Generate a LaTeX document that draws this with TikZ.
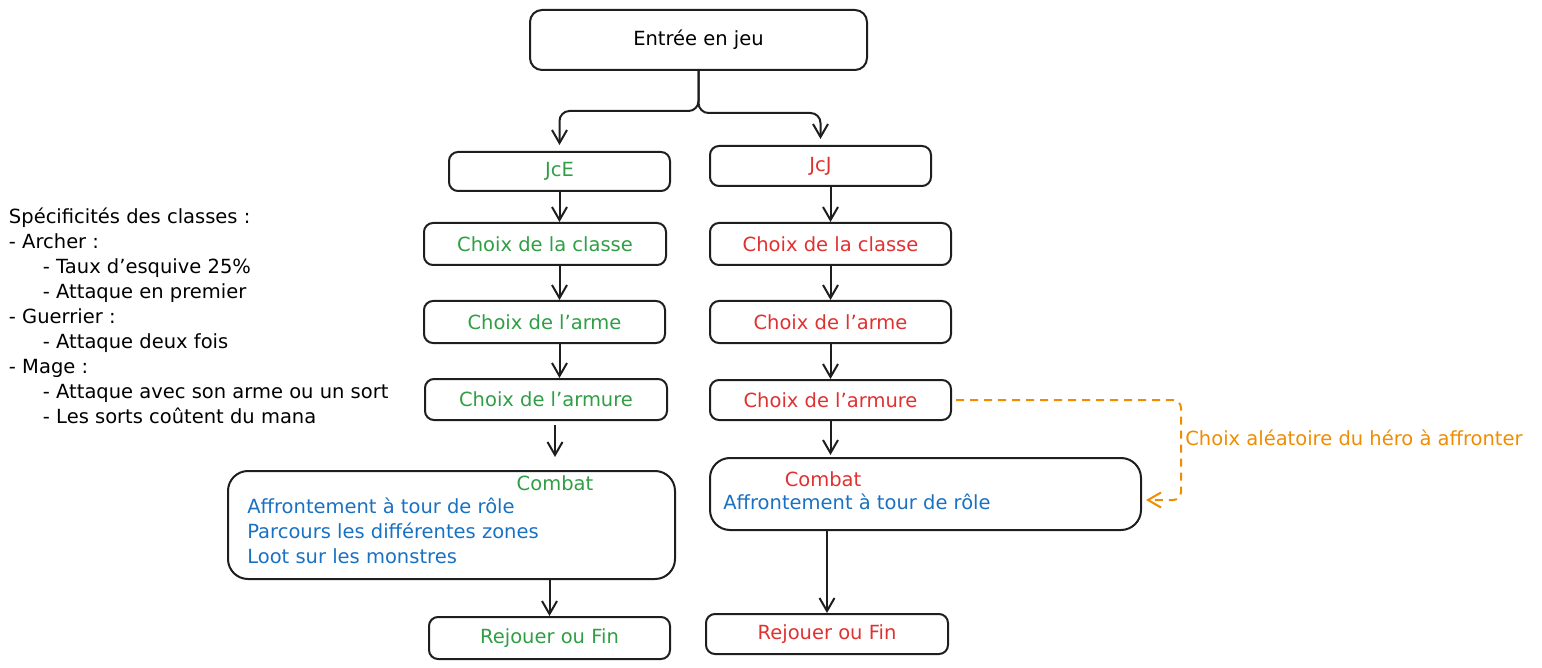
\documentclass[tikz,border=0pt]{standalone}
\usepackage{fontspec}
\setmainfont{DejaVu Sans}
\usetikzlibrary{positioning,arrows.meta}
\definecolor{jce}{HTML}{2F9E44}
\definecolor{jcj}{HTML}{E03131}
\definecolor{info}{HTML}{1971C2}
\definecolor{hasard}{HTML}{F08C00}
\definecolor{trait}{HTML}{1E1E1E}

\begin{document}
\begin{tikzpicture}[
    x=1pt, y=-1pt,
    >={Straight Barb[length=13pt,width=15pt]},
    line width=2pt,
    every node/.style={font=\fontsize{19.5}{25}\selectfont},
    etape/.style={draw=trait,rounded corners=9pt,minimum width=242pt,minimum height=42pt,inner sep=0pt},
    combat/.style={draw=trait,rounded corners=20pt,inner sep=0pt},
    fleche/.style={->,draw=trait},
    hasard/.style={->,draw=hasard,dashed,dash pattern=on 8pt off 6pt,rounded corners=8pt}
]

\useasboundingbox (0,0) rectangle (1542,668);

\node[etape,minimum width=337pt,minimum height=60pt,rounded corners=12pt] (entree) at (698.5,40) {Entrée en jeu};

\node[etape,minimum width=221pt,minimum height=39pt,text=jce] (jce) at (559.5,171.5) {JcE};
\node[etape,minimum width=221pt,minimum height=40pt,text=jcj] (jcj) at (820.5,166) {JcJ};

\node[etape,text=jce] (classeE) at (545,244) {Choix de la classe};
\node[etape,minimum width=241pt,text=jcj] (classeJ) at (830.5,244) {Choix de la classe};

\node[etape,minimum width=241pt,text=jce] (armeE) at (544.5,322) {Choix de l'arme};
\node[etape,minimum width=241pt,text=jcj] (armeJ) at (830.5,322) {Choix de l'arme};

\node[etape,minimum height=41pt,text=jce] (armureE) at (546,399.5) {Choix de l'armure};
\node[etape,minimum width=241pt,minimum height=40pt,text=jcj] (armureJ) at (830.5,400) {Choix de l'armure};

\node[combat,minimum width=447pt,minimum height=108pt] (combatE) at (451.5,525) {};
\node[text=jce] (titreE) at (555,483) {Combat};
\node[text=info,anchor=west,align=left] (detailsE) at (243,531)
{Affrontement à tour de rôle\\Parcours les différentes zones\\Loot sur les monstres};

\node[combat,minimum width=431pt,minimum height=72pt] (combatJ) at (925.5,494) {};
\node[text=jcj] (titreJ) at (823,479) {Combat};
\node[text=info,anchor=west] (detailsJ) at (719,502) {Affrontement à tour de rôle};

\node[etape,minimum width=241pt,text=jce] (finE) at (549.5,638) {Rejouer ou Fin};
\node[etape,minimum height=40pt,text=jcj] (finJ) at (827,634) {Rejouer ou Fin};

\node[anchor=north west,align=left,inner sep=0pt] (classes) at (8,207)
{Spécificités des classes :\\
- Archer :\\
\hspace{34pt}- Taux d'esquive 25\%\\
\hspace{34pt}- Attaque en premier\\
- Guerrier :\\
\hspace{34pt}- Attaque deux fois\\
- Mage :\\
\hspace{34pt}- Attaque avec son arme ou un sort\\
\hspace{34pt}- Les sorts coûtent du mana};

\node[text=hasard,anchor=west] (hero) at (1181,438) {Choix aléatoire du héro à affronter};

\draw[fleche,rounded corners=10pt,shorten >=6pt]
(entree.south) -- ++(0,40) -| (jce.north);

\draw[fleche,rounded corners=10pt,shorten >=6pt]
(entree.south) -- ++(0,42) -| (jcj.north);

\draw[fleche] (jce.south) -- (jce.south |- classeE.north);
\draw[fleche] (classeE.south -| jce.south) -- (armeE.north -| jce.south);
\draw[fleche] (armeE.south -| jce.south) -- (armureE.north -| jce.south);
\draw[fleche,shorten <=4pt,shorten >=13pt]
(armureE.south -| titreE) -- (combatE.north -| titreE);
\draw[fleche] (combatE.south -| finE.north) -- (finE.north);

\draw[fleche] (jcj.south -| classeJ) -- (classeJ.north);
\draw[fleche] (classeJ.south) -- (armeJ.north);
\draw[fleche] (armeJ.south) -- (armureJ.north);
\draw[fleche,shorten >=2pt] (armureJ.south) -- (combatJ.north -| armureJ.south);
\draw[fleche] (combatJ.south -| finJ.north) -- (finJ.north);

\draw[hasard,shorten <=4pt,shorten >=4pt]
(armureJ.east) -| (hero.west) |- ([yshift=-6pt]combatJ.east);

\end{tikzpicture}
\end{document}
